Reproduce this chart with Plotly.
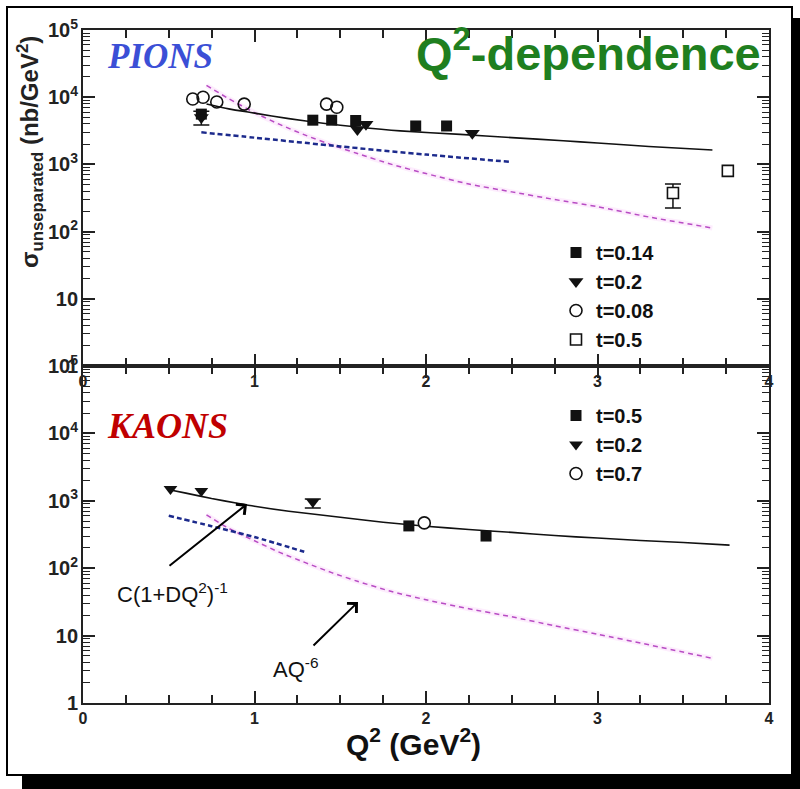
import plotly.graph_objects as go

# ---------------- data ----------------
pi_q2_t014 = [0.69, 1.34, 1.45, 1.59, 1.94, 2.12]
pi_sig_t014 = [5600, 4550, 4550, 4500, 3730, 3730]
pi_err_t014_plus = [600, 0, 0, 0, 0, 0]
pi_err_t014_minus = [1740, 0, 0, 0, 0, 0]

pi_q2_t02 = [0.69, 1.60, 1.65, 2.27]
pi_sig_t02 = [5000, 3300, 3950, 2900]

pi_q2_t008 = [0.64, 0.70, 0.78, 0.94, 1.42, 1.48]
pi_sig_t008 = [9400, 10000, 8500, 7900, 7900, 7100]

pi_q2_t05 = [3.44, 3.76]
pi_sig_t05 = [375, 800]
pi_err_t05_plus = [136, 0]
pi_err_t05_minus = [151, 0]

pi_fit_q2 = [0.72, 0.85, 1.0, 1.2, 1.4, 1.6, 1.85, 2.2, 2.5, 2.8, 3.0, 3.3, 3.67]
pi_fit_sig = [7900, 6700, 5800, 4800, 4100, 3600, 3150, 2800, 2500, 2250, 2080, 1850, 1640]

pi_blue_q2 = [0.69, 1.0, 1.5, 2.0, 2.49]
pi_blue_sig = [3000, 2500, 1850, 1400, 1090]

pi_mag_q2 = [0.72, 0.85, 1.0, 1.15, 1.3, 1.45, 1.6, 1.8, 2.0, 2.25, 2.5, 2.75, 3.0, 3.3, 3.67]
pi_mag_sig = [15000, 9500, 5900, 3900, 2700, 1950, 1450, 1000, 730, 510, 390, 300, 235, 165, 113]

k_q2_t05 = [1.90, 2.35]
k_sig_t05 = [424, 300]

k_q2_t02 = [0.51, 0.69, 1.34]
k_sig_t02 = [1500, 1400, 960]
k_err_t02_plus = [0, 0, 100]
k_err_t02_minus = [0, 0, 180]

k_q2_t07 = [1.99]
k_sig_t07 = [470]

k_fit_q2 = [0.51, 0.6, 0.75, 0.9, 1.0, 1.2, 1.5, 1.75, 2.0, 2.25, 2.5, 2.75, 3.0, 3.25, 3.5, 3.77]
k_fit_sig = [1450, 1300, 1080, 920, 830, 700, 570, 480, 420, 375, 340, 305, 280, 258, 240, 220]

k_blue_q2 = [0.50, 0.75, 1.0, 1.29]
k_blue_sig = [600, 420, 290, 175]

k_mag_q2 = [0.72, 0.85, 1.0, 1.15, 1.3, 1.45, 1.6, 1.8, 2.0, 2.25, 2.5, 2.75, 3.0, 3.3, 3.67]
k_mag_sig = [620, 390, 255, 170, 120, 86, 64, 45, 34, 25, 19, 14, 10.5, 7.3, 4.6]

# ---------------- styling ----------------
ARIAL = "Arial, Liberation Sans, sans-serif"
SERIF = "Times New Roman, Liberation Serif, serif"
INK = "#111111"
AXC = "#222222"
BLUE_LINE = "#1c2a8c"
MAG_LINE = "#b84cc4"
GLOW = "rgba(245,175,245,0.22)"

W, H = 800, 789
L, R, T, B = 83, 31, 30, 86
PW, PH = W - L - R, H - T - B


def px(xp):
    return (xp - L) / PW


def py(yp):
    return (H - B - yp) / PH


split = py(366)

fig = go.Figure()


def curve(x, y, xa, ya, color, width, dash):
    fig.add_trace(go.Scatter(x=x, y=y, xaxis=xa, yaxis=ya, mode="lines",
                             line=dict(color=color, width=width, dash=dash, shape="spline", smoothing=0.6),
                             showlegend=False, hoverinfo="skip"))


def errbars(x, y, plus, minus, xa, ya, idx):
    fig.add_trace(go.Scatter(x=[x[i] for i in idx], y=[y[i] for i in idx], xaxis=xa, yaxis=ya,
                             mode="markers", marker=dict(size=1, color="rgba(0,0,0,0)"),
                             showlegend=False, hoverinfo="skip",
                             error_y=dict(type="data", symmetric=False,
                                          array=[plus[i] for i in idx],
                                          arrayminus=[minus[i] for i in idx],
                                          color=INK, thickness=1.5, width=8)))


curve(pi_mag_q2, pi_mag_sig, "x", "y", GLOW, 5, "solid")
curve(pi_mag_q2, pi_mag_sig, "x", "y", MAG_LINE, 1.5, "5px,4px")
curve(pi_blue_q2, pi_blue_sig, "x", "y", BLUE_LINE, 2.5, "5px,3px")
curve(pi_fit_q2, pi_fit_sig, "x", "y", INK, 1.6, "solid")

curve(k_mag_q2, k_mag_sig, "x2", "y2", GLOW, 5, "solid")
curve(k_mag_q2, k_mag_sig, "x2", "y2", MAG_LINE, 1.5, "5px,4px")
curve(k_blue_q2, k_blue_sig, "x2", "y2", BLUE_LINE, 2.5, "5px,3px")
curve(k_fit_q2, k_fit_sig, "x2", "y2", INK, 1.6, "solid")

errbars(pi_q2_t014, pi_sig_t014, pi_err_t014_plus, pi_err_t014_minus, "x", "y", [0])
errbars(pi_q2_t05, pi_sig_t05, pi_err_t05_plus, pi_err_t05_minus, "x", "y", [0])
errbars(k_q2_t02, k_sig_t02, k_err_t02_plus, k_err_t02_minus, "x2", "y2", [2])

fig.add_trace(go.Scatter(x=pi_q2_t014, y=pi_sig_t014, xaxis="x", yaxis="y", mode="markers",
                         name="t=0.14", legend="legend",
                         marker=dict(symbol="square", size=11, color=INK)))
fig.add_trace(go.Scatter(x=pi_q2_t02, y=pi_sig_t02, xaxis="x", yaxis="y", mode="markers",
                         name="t=0.2", legend="legend",
                         marker=dict(symbol="triangle-down", size=13, color=INK)))
fig.add_trace(go.Scatter(x=pi_q2_t008, y=pi_sig_t008, xaxis="x", yaxis="y", mode="markers",
                         name="t=0.08", legend="legend",
                         marker=dict(symbol="circle-open", size=12, color=INK, line=dict(width=1.6))))
fig.add_trace(go.Scatter(x=pi_q2_t05, y=pi_sig_t05, xaxis="x", yaxis="y", mode="markers",
                         name="t=0.5", legend="legend",
                         marker=dict(symbol="square", size=11, color="white", line=dict(width=1.6, color=INK))))

fig.add_trace(go.Scatter(x=k_q2_t05, y=k_sig_t05, xaxis="x2", yaxis="y2", mode="markers",
                         name="t=0.5", legend="legend2",
                         marker=dict(symbol="square", size=11, color=INK)))
fig.add_trace(go.Scatter(x=k_q2_t02, y=k_sig_t02, xaxis="x2", yaxis="y2", mode="markers",
                         name="t=0.2", legend="legend2",
                         marker=dict(symbol="triangle-down", size=12, color=INK)))
fig.add_trace(go.Scatter(x=k_q2_t07, y=k_sig_t07, xaxis="x2", yaxis="y2", mode="markers",
                         name="t=0.7", legend="legend2",
                         marker=dict(symbol="circle", size=12, color="white", line=dict(width=1.6, color=INK))))

# empty traces so that the minor-tick overlay axes get their own subplots
fig.add_trace(go.Scatter(x=[None], y=[None], xaxis="x", yaxis="y3", showlegend=False, hoverinfo="skip"))
fig.add_trace(go.Scatter(x=[None], y=[None], xaxis="x2", yaxis="y4", showlegend=False, hoverinfo="skip"))

tickfont = dict(family=ARIAL, size=16, color="#222222", weight="bold")

y_minor_vals = [m * 10 ** k for k in range(0, 5) for m in range(2, 10)]

xcommon = dict(range=[0, 4], tick0=0, dtick=1,
               ticks="inside", ticklen=12, tickwidth=2, tickcolor=AXC,
               showline=True, linecolor=AXC, linewidth=1.5, mirror="ticks",
               showgrid=False, zeroline=False, tickfont=tickfont,
               minor=dict(ticks="inside", ticklen=8, dtick=0.25, tickwidth=1.5, tickcolor=AXC))
ycommon = dict(type="log", range=[0, 5], dtick=1, exponentformat="power",
               ticks="inside", ticklen=12, tickwidth=2, tickcolor=AXC,
               showline=True, linecolor=AXC, linewidth=1.5, mirror="ticks",
               showgrid=False, zeroline=False, tickfont=tickfont)
yminor = dict(type="log", range=[0, 5], tickmode="array", tickvals=y_minor_vals,
              showticklabels=False, ticks="inside", ticklen=7, tickwidth=1.3, tickcolor=AXC,
              showline=True, linecolor=AXC, linewidth=1.5, mirror="ticks",
              showgrid=False, zeroline=False)

fig.update_layout(
    width=W, height=H,
    margin=dict(l=L, r=R, t=T, b=B),
    paper_bgcolor="white", plot_bgcolor="white",
    font=dict(family=ARIAL, color=INK),
    xaxis=dict(**xcommon, domain=[0, 1], anchor="y"),
    yaxis=dict(**ycommon, domain=[split, 1], anchor="x"),
    xaxis2=dict(**xcommon, domain=[0, 1], anchor="y2"),
    yaxis2=dict(**ycommon, domain=[0, split], anchor="x2"),
    yaxis3=dict(**yminor, overlaying="y", anchor="x", side="left"),
    yaxis4=dict(**yminor, overlaying="y2", anchor="x2", side="left"),
    legend=dict(x=px(556), y=py(233), xanchor="left", yanchor="top",
                bgcolor="rgba(0,0,0,0)", font=dict(family=ARIAL, size=20, color=INK, weight="bold"),
                tracegroupgap=0, itemwidth=30),
    legend2=dict(x=px(556), y=py(396), xanchor="left", yanchor="top",
                 bgcolor="rgba(0,0,0,0)", font=dict(family=ARIAL, size=20, color=INK, weight="bold"),
                 tracegroupgap=0, itemwidth=30),
    showlegend=True,
)

# ---------------- frame & shadow ----------------
fig.add_shape(type="rect", xref="paper", yref="paper", x0=px(7), x1=px(792), y0=py(775), y1=py(7),
              line=dict(color="black", width=2), fillcolor="rgba(0,0,0,0)", layer="above")
fig.add_shape(type="rect", xref="paper", yref="paper", x0=px(792), x1=px(800), y0=py(789), y1=py(18),
              line=dict(width=0), fillcolor="black", layer="above")
fig.add_shape(type="rect", xref="paper", yref="paper", x0=px(22), x1=px(800), y0=py(789), y1=py(775),
              line=dict(width=0), fillcolor="black", layer="above")

# ---------------- texts ----------------
fig.add_annotation(xref="paper", yref="paper", x=px(105), y=py(57), xanchor="left", yanchor="middle",
                   text="PIONS", showarrow=False,
                   font=dict(family=SERIF, size=35, color="#3b4fd6", weight="bold", style="italic"))
fig.add_annotation(xref="paper", yref="paper", x=px(105), y=py(426), xanchor="left", yanchor="middle",
                   text="KAONS", showarrow=False,
                   font=dict(family=SERIF, size=36, color="#c00000", weight="bold", style="italic"))
fig.add_annotation(xref="paper", yref="paper", x=px(763), y=py(50), xanchor="right", yanchor="middle",
                   text="Q<sup>2</sup>-dependence", showarrow=False,
                   font=dict(family=ARIAL, size=47, color="#1f7f1f", weight="bold"))
fig.add_annotation(xref="paper", yref="paper", x=px(30), y=py(152), xanchor="center", yanchor="middle",
                   text="σ<sub>unseparated</sub> (nb/GeV<sup>2</sup>)", textangle=-90, showarrow=False,
                   font=dict(family=ARIAL, size=24, color="#222222", weight="bold"))
fig.add_annotation(xref="paper", yref="paper", x=px(413), y=py(742), xanchor="center", yanchor="middle",
                   text="Q<sup>2</sup> (GeV<sup>2</sup>)", showarrow=False,
                   font=dict(family=ARIAL, size=30, color=INK, weight="bold"))

fig.add_annotation(xref="x2", yref="y2", x=(247 - 83) / 171.5, y=(703 - 504) / 67.4, text="",
                   showarrow=True, ax=-79, ay=63, arrowhead=4, arrowsize=1.3, arrowwidth=2,
                   arrowcolor="black")
fig.add_annotation(xref="x2", yref="y2", x=(358 - 83) / 171.5, y=(703 - 602) / 67.4, text="",
                   showarrow=True, ax=-46, ay=45, arrowhead=4, arrowsize=1.3, arrowwidth=2,
                   arrowcolor="black")
fig.add_annotation(xref="x2", yref="y2", x=(172 - 83) / 171.5, y=(703 - 593) / 67.4,
                   text="C(1+DQ<sup>2</sup>)<sup>-1</sup>", showarrow=False,
                   font=dict(family=ARIAL, size=22, color=INK))
fig.add_annotation(xref="x2", yref="y2", x=(295 - 83) / 171.5, y=(703 - 668) / 67.4,
                   text="AQ<sup>-6</sup>", showarrow=False,
                   font=dict(family=ARIAL, size=22, color=INK))

fig.write_html("out.html")
